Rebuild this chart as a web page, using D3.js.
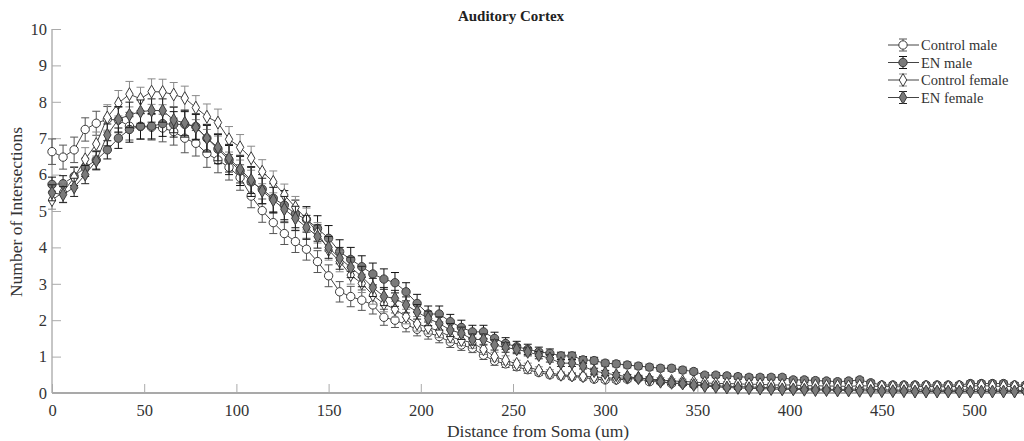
<!DOCTYPE html>
<html>
<head>
<meta charset="utf-8">
<script src="https://cdn.jsdelivr.net/npm/d3@7"></script>
<style>
  html, body { margin: 0; padding: 0; background: #fff; }
  svg { display: block; font-family: "Liberation Serif", "Times New Roman", serif; }
</style>
</head>
<body>
<div id="chart"></div>
<script>
// ---- data (distance from soma, step 6 um) ----
const distances = [0,6,12,18,24,30,36,42,48,54,
 60,66,72,78,84,90,96,102,108,114,
 120,126,132,138,144,150,156,162,168,174,
 180,186,192,198,204,210,216,222,228,234,
 240,246,252,258,264,270,276,282,288,294,
 300,306,312,318,324,330,336,342,348,354,
 360,366,372,378,384,390,396,402,408,414,
 420,426,432,438,444,450,456,462,468,474,
 480,486,492,498,504,510,516,522,528];

const controlMale = [6.63,6.48,6.68,7.24,7.41,7.52,7.50,7.33,7.32,7.30,
 7.28,7.18,7.00,6.86,6.58,6.40,6.20,5.92,5.41,5.01,
 4.68,4.38,4.16,3.95,3.61,3.22,2.78,2.65,2.55,2.42,
 2.08,2.00,1.88,1.75,1.66,1.55,1.40,1.32,1.23,1.04,
 0.88,0.80,0.72,0.64,0.56,0.50,0.47,0.45,0.43,0.38,
 0.36,0.36,0.38,0.40,0.31,0.31,0.26,0.26,0.22,0.22,
 0.20,0.18,0.17,0.17,0.15,0.15,0.14,0.12,0.12,0.11,
 0.10,0.10,0.10,0.11,0.10,0.09,0.08,0.08,0.09,0.08,
 0.08,0.07,0.08,0.09,0.09,0.08,0.08,0.07,0.07];

const enMale = [5.73,5.75,5.95,6.20,6.40,6.68,7.00,7.24,7.33,7.33,
 7.40,7.38,7.38,7.32,7.00,6.70,6.40,6.10,5.80,5.60,
 5.35,5.16,4.92,4.77,4.52,4.25,3.88,3.67,3.47,3.27,
 3.13,3.03,2.78,2.46,2.17,2.17,1.96,1.80,1.68,1.68,
 1.50,1.36,1.27,1.20,1.13,1.09,1.02,1.02,0.91,0.89,
 0.82,0.80,0.77,0.74,0.71,0.68,0.68,0.63,0.59,0.49,
 0.49,0.47,0.45,0.43,0.43,0.43,0.43,0.36,0.36,0.34,
 0.33,0.31,0.33,0.36,0.28,0.22,0.22,0.22,0.22,0.22,
 0.22,0.22,0.22,0.26,0.26,0.26,0.26,0.22,0.22];

const controlFemale = [5.30,5.52,5.92,6.42,6.84,7.57,7.96,8.21,8.08,8.28,
 8.27,8.20,8.10,7.84,7.59,7.43,6.97,6.75,6.45,6.08,
 5.80,5.44,5.10,4.78,4.40,3.93,3.61,3.24,3.01,2.69,
 2.45,2.30,2.10,1.90,1.80,1.70,1.55,1.45,1.38,1.20,
 1.00,0.90,0.80,0.72,0.62,0.55,0.50,0.48,0.46,0.44,
 0.42,0.40,0.42,0.42,0.38,0.36,0.33,0.32,0.30,0.28,
 0.26,0.26,0.25,0.24,0.24,0.22,0.22,0.22,0.20,0.20,
 0.19,0.19,0.18,0.20,0.19,0.18,0.17,0.17,0.17,0.18,
 0.17,0.17,0.18,0.19,0.20,0.19,0.18,0.18,0.18];

const enFemale = [5.50,5.45,5.65,6.00,6.38,7.09,7.52,7.64,7.73,7.76,
 7.76,7.50,7.42,7.30,7.00,6.75,6.45,6.15,5.85,5.55,
 5.30,5.05,4.80,4.55,4.30,4.00,3.70,3.45,3.20,2.90,
 2.65,2.60,2.42,2.23,2.05,1.91,1.73,1.64,1.47,1.47,
 1.32,1.25,1.20,1.13,1.04,0.95,0.82,0.82,0.74,0.60,
 0.55,0.49,0.45,0.41,0.38,0.31,0.28,0.26,0.22,0.19,
 0.17,0.15,0.14,0.13,0.12,0.11,0.10,0.10,0.09,0.08,
 0.08,0.07,0.07,0.06,0.06,0.05,0.05,0.05,0.04,0.04,
 0.04,0.04,0.04,0.04,0.04,0.04,0.04,0.04,0.04];

const errControlMale = [0.35,0.33,0.35,0.32,0.33,0.35,0.35,0.38,0.35,0.35,
 0.38,0.37,0.40,0.35,0.38,0.35,0.35,0.35,0.32,0.32,
 0.30,0.30,0.30,0.30,0.30,0.30,0.28,0.28,0.28,0.25,
 0.22,0.20,0.20,0.18,0.18,0.17,0.15,0.15,0.12,0.12,
 0.12,0.10,0.10,0.10,0.08,0.08,0.08,0.08,0.07,0.07,
 0.07,0.07,0.07,0.06,0.06,0.06,0.06,0.05,0.05,0.05,
 0.05,0.05,0.05,0.05,0.05,0.05,0.05,0.04,0.04,0.04,
 0.04,0.04,0.04,0.04,0.04,0.04,0.04,0.04,0.04,0.04,
 0.04,0.04,0.04,0.04,0.04,0.04,0.04,0.04,0.04];

const errEnMale = [0.20,0.22,0.25,0.25,0.25,0.25,0.28,0.35,0.35,0.35,
 0.35,0.35,0.35,0.35,0.38,0.40,0.40,0.40,0.40,0.40,
 0.40,0.40,0.38,0.35,0.35,0.35,0.33,0.33,0.30,0.30,
 0.28,0.28,0.25,0.25,0.22,0.22,0.20,0.20,0.18,0.18,
 0.17,0.16,0.15,0.14,0.13,0.12,0.10,0.10,0.09,0.09,
 0.08,0.08,0.08,0.08,0.08,0.08,0.08,0.08,0.07,0.07,
 0.07,0.07,0.07,0.07,0.07,0.07,0.07,0.07,0.07,0.07,
 0.07,0.07,0.07,0.07,0.07,0.07,0.07,0.07,0.07,0.07,
 0.07,0.07,0.07,0.07,0.07,0.07,0.07,0.07,0.07];

const errControlFemale = [0.25,0.28,0.30,0.32,0.33,0.35,0.35,0.35,0.32,0.35,
 0.35,0.33,0.33,0.33,0.35,0.37,0.35,0.35,0.33,0.33,
 0.30,0.30,0.30,0.30,0.28,0.28,0.28,0.25,0.25,0.25,
 0.22,0.22,0.20,0.20,0.18,0.18,0.17,0.15,0.15,0.14,
 0.12,0.12,0.10,0.10,0.10,0.09,0.08,0.08,0.08,0.08,
 0.07,0.07,0.07,0.07,0.06,0.06,0.06,0.06,0.06,0.05,
 0.05,0.05,0.05,0.05,0.05,0.05,0.05,0.05,0.05,0.05,
 0.05,0.05,0.05,0.05,0.05,0.05,0.05,0.05,0.05,0.05,
 0.05,0.05,0.05,0.05,0.05,0.05,0.05,0.05,0.05];

const errEnFemale = [0.22,0.22,0.25,0.25,0.25,0.30,0.35,0.35,0.32,0.32,
 0.32,0.35,0.35,0.35,0.35,0.37,0.38,0.38,0.37,0.35,
 0.35,0.35,0.33,0.33,0.32,0.30,0.30,0.28,0.28,0.25,
 0.25,0.22,0.22,0.20,0.20,0.18,0.18,0.17,0.15,0.15,
 0.14,0.13,0.12,0.11,0.10,0.10,0.09,0.09,0.08,0.08,
 0.07,0.07,0.06,0.06,0.06,0.05,0.05,0.05,0.05,0.04,
 0.04,0.04,0.04,0.04,0.04,0.03,0.03,0.03,0.03,0.03,
 0.03,0.03,0.03,0.03,0.03,0.03,0.03,0.03,0.03,0.03,
 0.03,0.03,0.03,0.03,0.03,0.03,0.03,0.03,0.03];

const xTicks = [0,50,100,150,200,250,300,350,400,450,500];
const yTicks = [0,1,2,3,4,5,6,7,8,9,10];
const seriesNames = ["Control male","EN male","Control female","EN female"];

// ---- build series table ----
const series = [
  {name: seriesNames[0], values: controlMale,   errs: errControlMale,   shape: "circle",  fill: "#ffffff", errColor: "#555555"},
  {name: seriesNames[1], values: enMale,        errs: errEnMale,        shape: "circle",  fill: "#7a7a7a", errColor: "#111111"},
  {name: seriesNames[2], values: controlFemale, errs: errControlFemale, shape: "diamond", fill: "#ffffff", errColor: "#8a8a8a"},
  {name: seriesNames[3], values: enFemale,      errs: errEnFemale,      shape: "diamond", fill: "#7a7a7a", errColor: "#222222"}
];

const W = 1024, H = 441;
const svg = d3.select("#chart").append("svg").attr("width", W).attr("height", H);

const x = d3.scaleLinear().domain([0, 500]).range([52, 974]);
const y = d3.scaleLinear().domain([0, 10]).range([393, 29]);

const axisColor = "#8c8c8c";
const textColor = "#333333";

// axes lines
svg.append("line").attr("x1", x(0)).attr("x2", W).attr("y1", y(0)).attr("y2", y(0))
  .attr("stroke", "#555").attr("stroke-width", 1.2);
svg.append("line").attr("x1", x(0)).attr("x2", x(0)).attr("y1", y(0)).attr("y2", y(10))
  .attr("stroke", axisColor).attr("stroke-width", 1);

// ticks (inward)
const xAxis = d3.axisBottom(x).tickValues(xTicks).tickSize(-9).tickPadding(11);
const gx = svg.append("g").attr("transform", `translate(0,${y(0)})`).call(xAxis);
gx.select(".domain").remove();
gx.selectAll(".tick line").attr("stroke", "#aaa");
gx.selectAll(".tick text").attr("fill", textColor).attr("font-size", 16.5)
  .attr("font-family", "Liberation Serif, serif");

const yAxis = d3.axisLeft(y).tickValues(yTicks).tickSize(-9).tickPadding(5);
const gy = svg.append("g").attr("transform", `translate(${x(0)},0)`).call(yAxis);
gy.select(".domain").remove();
gy.selectAll(".tick line").attr("stroke", "#aaa");
gy.selectAll(".tick text").attr("fill", textColor).attr("font-size", 16.5)
  .attr("font-family", "Liberation Serif, serif");

// titles
svg.append("text").attr("x", 511).attr("y", 21).attr("text-anchor", "middle")
  .attr("font-size", 15).attr("font-weight", "bold").attr("fill", "#222").text("Auditory Cortex");
svg.append("text").attr("x", 538).attr("y", 437).attr("text-anchor", "middle")
  .attr("font-size", 17.5).attr("fill", textColor).text("Distance from Soma (um)");
svg.append("text").attr("transform", `translate(22,212) rotate(-90)`).attr("text-anchor", "middle")
  .attr("font-size", 17.5).attr("fill", textColor).text("Number of Intersections");

// markers
const circleSym = d3.symbol().type(d3.symbolCircle).size(55);
const diamondSym = d3.symbol().type(d3.symbolDiamond).size(48);
function drawMarker(g, shape, fill) {
  g.append("path").attr("d", shape === "circle" ? circleSym() : diamondSym())
    .attr("fill", fill).attr("stroke", "#3a3a3a").attr("stroke-width", 1);
}

const plot = svg.append("g");
const capW = 4;

series.forEach(s => {
  const pts = s.values.map((v, i) => ({x: distances[i], y: v, e: s.errs[i]}));
  const g = plot.append("g");
  // error bars
  const eb = g.append("g").attr("stroke", s.errColor).attr("stroke-width", 1);
  pts.forEach(p => {
    const cx = x(p.x), y1 = y(p.y + p.e), y0 = y(Math.max(0, p.y - p.e));
    eb.append("line").attr("x1", cx).attr("x2", cx).attr("y1", y1).attr("y2", y0);
    eb.append("line").attr("x1", cx - capW).attr("x2", cx + capW).attr("y1", y1).attr("y2", y1);
    eb.append("line").attr("x1", cx - capW).attr("x2", cx + capW).attr("y1", y0).attr("y2", y0);
  });
  // line
  g.append("path").datum(pts)
    .attr("d", d3.line().x(d => x(d.x)).y(d => y(d.y)))
    .attr("fill", "none").attr("stroke", "#444").attr("stroke-width", 1);
  // markers
  pts.forEach(p => {
    const mg = g.append("g").attr("transform", `translate(${x(p.x)},${y(p.y)})`);
    drawMarker(mg, s.shape, s.fill);
  });
});

// legend
const legend = svg.append("g");
series.forEach((s, i) => {
  const ly = 45 + i * 17.5;
  const lg = legend.append("g");
  lg.append("line").attr("x1", 888).attr("x2", 919).attr("y1", ly).attr("y2", ly)
    .attr("stroke", "#444").attr("stroke-width", 1);
  lg.append("line").attr("x1", 903).attr("x2", 903).attr("y1", ly - 6).attr("y2", ly + 6)
    .attr("stroke", s.errColor);
  lg.append("line").attr("x1", 899).attr("x2", 907).attr("y1", ly - 6).attr("y2", ly - 6)
    .attr("stroke", s.errColor);
  lg.append("line").attr("x1", 899).attr("x2", 907).attr("y1", ly + 6).attr("y2", ly + 6)
    .attr("stroke", s.errColor);
  const mg = lg.append("g").attr("transform", `translate(903,${ly})`);
  drawMarker(mg, s.shape, s.fill);
  lg.append("text").attr("x", 921).attr("y", ly + 5).attr("font-size", 14.5)
    .attr("fill", textColor).text(s.name);
});
</script>
</body>
</html>
